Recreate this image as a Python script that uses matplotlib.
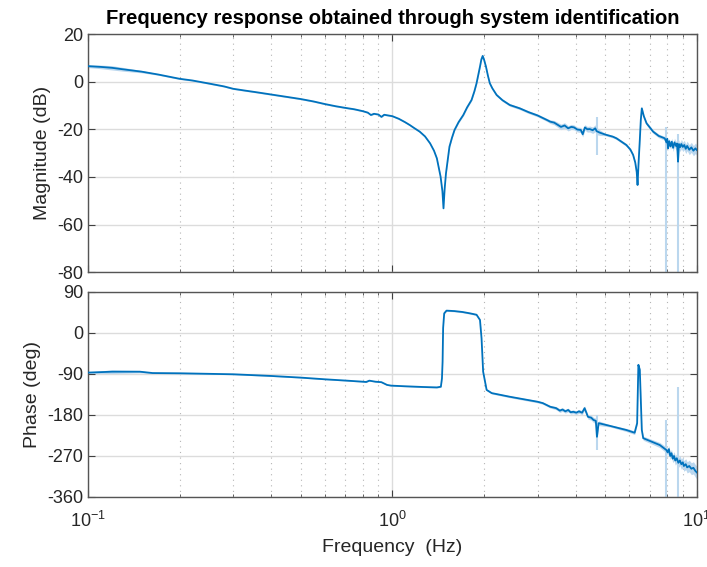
import numpy as np
import matplotlib
matplotlib.use("Agg")
import matplotlib.pyplot as plt
from matplotlib.ticker import NullFormatter, FixedLocator, LogFormatterMathtext

plt.rcParams['font.family'] = ['Liberation Sans', 'DejaVu Sans']
plt.rcParams['mathtext.default'] = 'regular'
plt.rcParams['axes.unicode_minus'] = False

# magnitude (Hz, dB)
mag_f = [0.100, 0.11, 0.12, 0.13, 0.15, 0.17, 0.20, 0.22, 0.25, 0.28, 0.30, 0.33,
         0.36, 0.40, 0.45, 0.50, 0.55, 0.60, 0.65, 0.70, 0.75, 0.80, 0.83, 0.85,
         0.87, 0.90, 0.92, 0.94, 0.97, 1.00, 1.05, 1.10, 1.14, 1.18, 1.23, 1.28,
         1.33, 1.37, 1.40, 1.44, 1.46, 1.472, 1.485, 1.50, 1.54, 1.57, 1.60, 1.65,
         1.71, 1.76, 1.82, 1.86, 1.89, 1.94, 1.96, 1.98, 2.00, 2.03, 2.06, 2.09,
         2.13, 2.20, 2.30, 2.43, 2.62, 2.80, 3.00, 3.22, 3.30, 3.40, 3.50, 3.58,
         3.68, 3.78, 3.87, 3.95, 4.05, 4.16, 4.22, 4.29, 4.37, 4.45, 4.55, 4.64,
         4.69, 4.80, 5.00, 5.30, 5.45, 5.87, 6.05, 6.18, 6.28, 6.35, 6.39, 6.44,
         6.50, 6.55, 6.60, 6.70, 6.84, 7.19, 7.50, 7.85, 7.95, 8.00, 8.05, 8.12,
         8.20, 8.28, 8.36, 8.45, 8.55, 8.62, 8.68, 8.74, 8.82, 8.90, 9.00, 9.10,
         9.20, 9.30, 9.45, 9.60, 9.75, 9.90, 10.0]
mag_db = [6.5, 6.2, 5.8, 5.2, 4.2, 3.0, 1.2, 0.5, -0.8, -2.0, -3.0, -3.8,
          -4.5, -5.4, -6.4, -7.3, -8.3, -9.4, -10.3, -11.0, -11.6, -12.4, -13.0, -14.0,
          -13.5, -13.8, -14.8, -13.9, -14.2, -14.5, -15.6, -17.0, -18.2, -19.5, -21.0, -23.0,
          -25.9, -29.0, -32.2, -39.9, -46.0, -53.2, -45.0, -38.5, -27.3, -23.5, -20.3, -17.0,
          -14.0, -10.8, -7.7, -4.0, -0.7, 6.3, 9.3, 10.8, 9.3, 6.3, 2.5, -0.7,
          -2.8, -5.6, -7.8, -9.8, -11.2, -12.8, -14.2, -16.1, -16.8, -17.2, -18.2, -19.0,
          -18.4, -19.6, -19.0, -19.2, -20.1, -20.3, -22.1, -19.2, -20.0, -19.9, -20.4, -19.6,
          -20.8, -21.4, -22.2, -23.1, -23.8, -26.6, -28.5, -30.8, -34.0, -38.0, -43.4, -34.0,
          -24.5, -16.0, -11.2, -14.5, -17.5, -21.0, -22.8, -23.8, -25.5, -24.0, -28.0, -25.0,
          -27.2, -25.2, -27.8, -25.5, -27.0, -26.0, -33.6, -26.2, -27.5, -26.2, -27.4, -26.6,
          -28.2, -27.0, -28.6, -27.6, -29.0, -28.0, -28.7]

# phase (Hz, deg)
ph_f = [0.100, 0.11, 0.12, 0.148, 0.163, 0.20, 0.30, 0.40, 0.50, 0.60, 0.71, 0.80,
        0.82, 0.84, 0.88, 0.92, 0.96, 0.99, 1.10, 1.25, 1.40, 1.443, 1.455, 1.462,
        1.468, 1.48, 1.506, 1.60, 1.70, 1.80, 1.89, 1.94, 1.963, 1.987, 2.04, 2.12,
        2.43, 3.00, 3.12, 3.30, 3.45, 3.55, 3.62, 3.70, 3.78, 3.85, 3.93, 4.02,
        4.10, 4.20, 4.28, 4.39, 4.50, 4.58, 4.66, 4.70, 4.76, 5.19, 5.87, 6.25,
        6.37, 6.43, 6.50, 6.60, 6.67, 7.56, 7.95, 8.02, 8.10, 8.18, 8.26, 8.34,
        8.42, 8.50, 8.60, 8.70, 8.80, 8.90, 9.00, 9.07, 9.20, 9.30, 9.45, 9.60,
        9.75, 9.90, 10.0]
ph_deg = [-87, -86, -85, -85, -88, -88.5, -90.7, -94.4, -98, -101.7, -104.7, -107,
          -107.6, -104.7, -107, -108, -114, -115.6, -117, -118.5, -119.5, -118, -100, -63,
          11, 43, 49, 48, 46, 43, 40, 28.5, -11.7, -85, -125, -132,
          -140, -151, -154, -162, -165, -170.5, -168, -172, -169, -174, -173, -175,
          -172, -175, -165, -184, -186, -191, -193, -228, -198, -204, -213, -219,
          -198, -70, -81, -213, -231, -246, -257, -262, -255, -270, -264, -276,
          -270, -280, -275, -285, -280, -288, -284, -292, -288, -295, -292, -298,
          -296, -303, -306]

# confidence spread (light band), Hz and half-width
band_f = [0.10, 0.12, 0.14, 0.16, 1.0, 3.2, 3.6, 4.0, 4.4, 4.7, 5.0, 7.9, 8.5, 9.2, 10.0]
mag_band = [0.6, 0.9, 0.7, 0.3, 0.3, 0.6, 1.2, 1.0, 1.2, 1.5, 0.5, 0.8, 1.8, 2.0, 2.2]
ph_band = [1.5, 4.0, 3.5, 1.0, 1.0, 2.5, 4.0, 4.0, 5.0, 6.0, 2.0, 6.0, 10.0, 12.0, 14.0]
# isolated light spikes: freq, low, high
mag_spk_f = [4.69, 7.95, 8.68]
mag_spk_lo = [-31, -80, -80]
mag_spk_hi = [-15, -19, -22]
ph_spk_f = [4.69, 7.95, 8.68]
ph_spk_lo = [-257, -360, -360]
ph_spk_hi = [-180, -190, -118]

minor_f = [m * d for d in (0.1, 1.0) for m in range(2, 10)]

blue = '#0072BD'
light = '#BBD7EE'

fig = plt.figure(figsize=(7.07, 5.67), dpi=100)
ax1 = fig.add_axes([0.1245, 0.520, 0.861, 0.420])
ax2 = fig.add_axes([0.1245, 0.1235, 0.861, 0.3616])

mf = np.array(mag_f)
pf = np.array(ph_f)
bf = np.array(band_f)

mw = np.interp(np.log10(mf), np.log10(bf), mag_band)
ax1.fill_between(mf, np.array(mag_db) - mw, np.array(mag_db) + mw, color=light, lw=0, zorder=2)
ax1.vlines(mag_spk_f, mag_spk_lo, mag_spk_hi, color=light, lw=1.5, zorder=2)
ax1.plot(mf, mag_db, color=blue, lw=1.3, zorder=3)

pw = np.interp(np.log10(pf), np.log10(bf), ph_band)
ax2.fill_between(pf, np.array(ph_deg) - pw, np.array(ph_deg) + pw, color=light, lw=0, zorder=2)
ax2.vlines(ph_spk_f, ph_spk_lo, ph_spk_hi, color=light, lw=1.5, zorder=2)
ax2.plot(pf, ph_deg, color=blue, lw=1.3, zorder=3)

for ax in (ax1, ax2):
    ax.set_xscale('log')
    ax.set_xlim(0.1, 10)
    ax.xaxis.set_major_locator(FixedLocator([0.1, 1, 10]))
    ax.xaxis.set_major_formatter(LogFormatterMathtext())
    ax.xaxis.set_minor_locator(FixedLocator(minor_f))
    ax.xaxis.set_minor_formatter(NullFormatter())
    ax.grid(True, which='major', color='#dcdcdc', lw=1.0, zorder=0)
    ax.grid(True, which='minor', axis='x', color='#b5b5b5', lw=0.8, ls=(0, (1, 4)), zorder=0)
    ax.tick_params(which='both', direction='in', top=True, right=True,
                   colors='#404040', labelcolor='#262626', labelsize=13)
    ax.tick_params(which='major', length=5)
    ax.tick_params(which='minor', length=2.5)
    for s in ax.spines.values():
        s.set_color('#555555')
        s.set_linewidth(1.0)
    ax.set_axisbelow(True)

ax1.set_ylim(-80, 20)
ax1.yaxis.set_major_locator(FixedLocator([-80, -60, -40, -20, 0, 20]))
ax1.tick_params(labelbottom=False)
ax1.set_ylabel('Magnitude (dB)', fontsize=14, color='#262626')
ax1.set_title('Frequency response obtained through system identification',
              fontsize=14.5, fontweight='bold', pad=7)

ax2.set_ylim(-360, 90)
ax2.yaxis.set_major_locator(FixedLocator([-360, -270, -180, -90, 0, 90]))
ax2.set_ylabel('Phase (deg)', fontsize=14, color='#262626')
ax2.set_xlabel('Frequency  (Hz)', fontsize=14, color='#262626', labelpad=6)
ax2.tick_params(axis='x', pad=10)

fig.savefig('out.png', dpi=100)
